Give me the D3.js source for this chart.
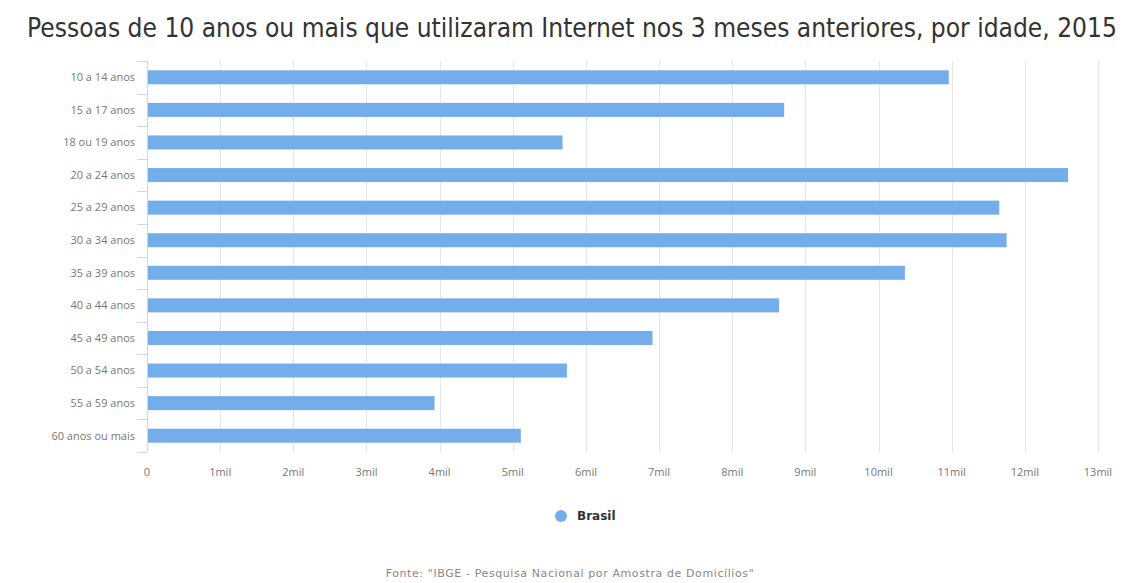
<!DOCTYPE html>
<html>
<head>
<meta charset="utf-8">
<script src="https://cdn.jsdelivr.net/npm/d3@7"></script>
<style>
  body { margin: 0; background: #fff; }
  text { font-family: "Open Sans", "DejaVu Sans", sans-serif; }
</style>
</head>
<body>
<div id="chart"></div>
<script>
// categorias (faixas de idade)
var ages = ["10 a 14 anos", "15 a 17 anos", "18 ou 19 anos", "20 a 24 anos", "25 a 29 anos",
    "30 a 34 anos", "35 a 39 anos", "40 a 44 anos", "45 a 49 anos", "50 a 54 anos",
    "55 a 59 anos", "60 anos ou mais"];
// pessoas (em mil)
var brasil = [10960, 8710, 5680, 12590, 11650, 11750, 10360, 8640, 6910, 5740, 3930, 5110];
var xTicks = [0, 1000, 2000, 3000, 4000, 5000, 6000, 7000, 8000, 9000, 10000, 11000, 12000, 13000];

var title = "Pessoas de 10 anos ou mais que utilizaram Internet nos 3 meses anteriores, por idade, 2015";
var source = "Fonte: \"IBGE - Pesquisa Nacional por Amostra de Domicílios\"";
var seriesName = "Brasil";

var W = 1124, H = 583;
var margin = {top: 61, right: 26, bottom: 131, left: 147},
    width = W - margin.left - margin.right,
    height = H - margin.top - margin.bottom;

var svg = d3.select("#chart").append("svg")
    .attr("width", W)
    .attr("height", H);

var g = svg.append("g")
    .attr("transform", "translate(" + margin.left + "," + margin.top + ")");

var x = d3.scaleLinear().domain([0, 13000]).range([0, width]);
var y = d3.scaleBand().domain(ages).range([0, height]).paddingInner(0).paddingOuter(0);

// fit a text to a given width by changing its font size
function fitWidth(sel, size, target) {
    var w = sel.node().getComputedTextLength();
    if (w > 0) sel.style("font-size", (size * target / w) + "px");
}

// grid lines
g.selectAll(".grid")
    .data(xTicks.slice(1))
    .enter().append("line")
    .attr("class", "grid")
    .attr("x1", function (d) { return Math.round(x(d)) + 0.5; })
    .attr("x2", function (d) { return Math.round(x(d)) + 0.5; })
    .attr("y1", 0)
    .attr("y2", height)
    .attr("stroke", "#e6e6e6")
    .attr("stroke-width", 1);

// x axis labels
g.selectAll(".xlab")
    .data(xTicks)
    .enter().append("text")
    .attr("class", "xlab")
    .attr("x", function (d) { return x(d); })
    .attr("y", height + 24)
    .attr("text-anchor", "middle")
    .style("font-size", "11px")
    .style("fill", "#777")
    .text(function (d) { return d === 0 ? "0" : (d / 1000) + "mil"; });

// y axis line + ticks at category boundaries
g.append("line")
    .attr("x1", 0.5).attr("x2", 0.5)
    .attr("y1", 0).attr("y2", height)
    .attr("stroke", "#ccd6eb");

var bounds = ages.map(function (a) { return y(a); }).concat([height]);
g.selectAll(".ytick")
    .data(bounds)
    .enter().append("line")
    .attr("class", "ytick")
    .attr("x1", -10).attr("x2", 0)
    .attr("y1", function (d) { return Math.round(d) + 0.5; })
    .attr("y2", function (d) { return Math.round(d) + 0.5; })
    .attr("stroke", "#ccd6eb");

g.selectAll(".ylab")
    .data(ages)
    .enter().append("text")
    .attr("class", "ylab")
    .attr("x", -12)
    .attr("y", function (d) { return y(d) + y.bandwidth() / 2; })
    .attr("dy", "0.35em")
    .attr("text-anchor", "end")
    .style("font-size", "11px")
    .style("fill", "#777")
    .text(function (d) { return d; });

// bars
var barH = 14;
g.selectAll(".bar")
    .data(brasil)
    .enter().append("rect")
    .attr("class", "bar")
    .attr("x", x(0) + 1)
    .attr("y", function (d, i) { return y(ages[i]) + y.bandwidth() / 2 - barH / 2; })
    .attr("width", function (d) { return x(d) - x(0) - 1; })
    .attr("height", barH)
    .attr("fill", "#74aeea");

// title
var t = svg.append("text")
    .attr("x", 572)
    .attr("y", 37)
    .attr("text-anchor", "middle")
    .style("font-family", "'DejaVu Sans Condensed', 'Liberation Sans Narrow', 'DejaVu Sans', sans-serif")
    .style("font-stretch", "condensed")
    .style("font-size", "18px")
    .style("fill", "#333")
    .text(title);
fitWidth(t, 18, 1090);

// legend
var leg = svg.append("g").attr("transform", "translate(561,516)");
leg.append("circle")
    .attr("cx", 0).attr("cy", 0).attr("r", 6)
    .attr("fill", "#74aeea");
leg.append("text")
    .attr("x", 16).attr("y", 0).attr("dy", "0.35em")
    .style("font-family", "'DejaVu Sans', sans-serif")
    .style("font-size", "12px")
    .style("font-weight", "bold")
    .style("fill", "#333")
    .text(seriesName);

// source
svg.append("text")
    .attr("x", 570)
    .attr("y", 577)
    .attr("text-anchor", "middle")
    .style("font-family", "'DejaVu Sans', sans-serif")
    .style("font-size", "11px")
    .style("letter-spacing", "0.6px")
    .style("fill", "#888")
    .text(source);
</script>
</body>
</html>
